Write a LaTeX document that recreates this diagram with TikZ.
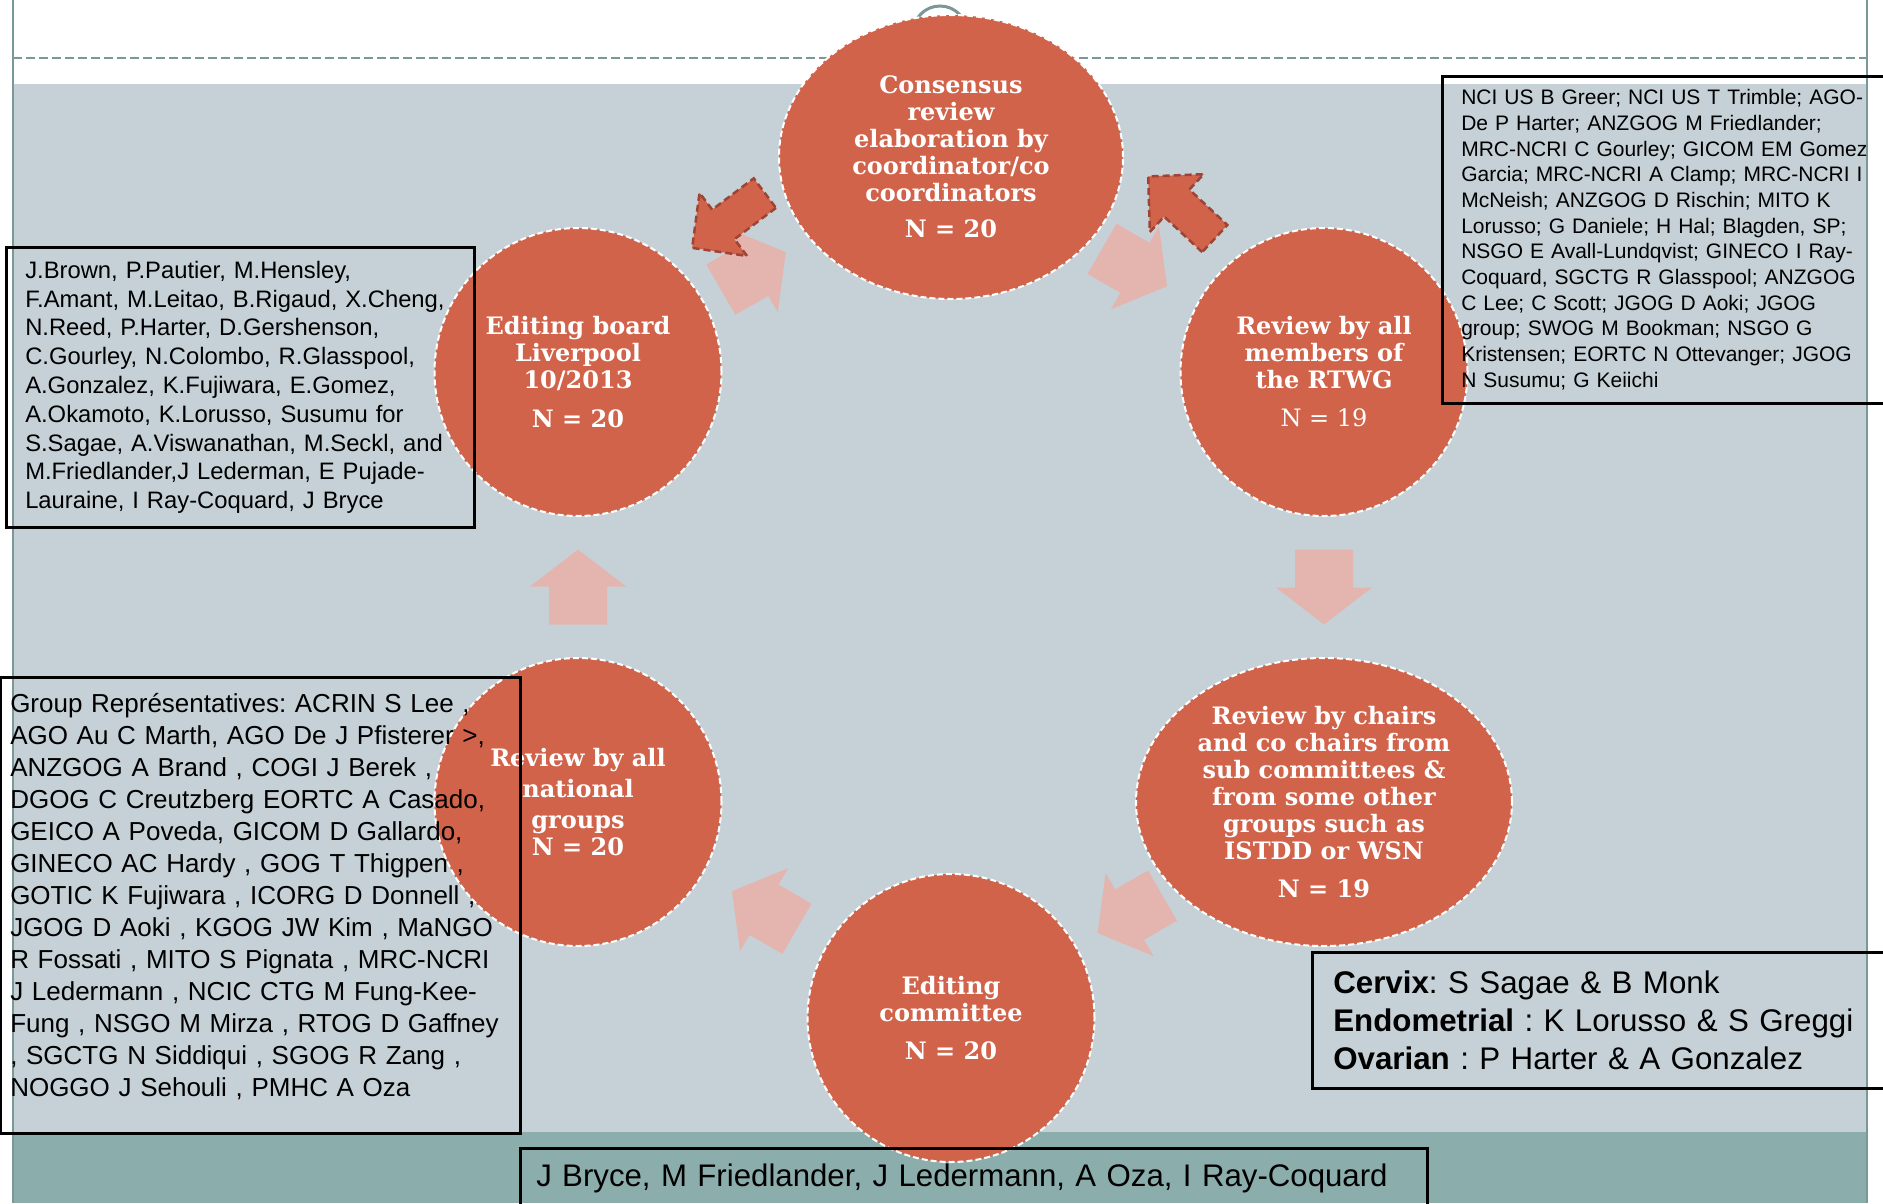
\documentclass[tikz,border=0pt]{standalone}
\usepackage{fontspec}
\setmainfont{Liberation Sans}
\newfontfamily\stagefont{DejaVu Serif}
\usetikzlibrary{shapes.geometric,calc,backgrounds}
\frenchspacing

\definecolor{stagefill}{RGB}{209,99,74}
\definecolor{stageedge}{RGB}{158,68,52}
\definecolor{arrowpink}{RGB}{228,181,174}
\definecolor{slidegray}{RGB}{197,209,215}
\definecolor{slideband}{RGB}{139,173,172}
\definecolor{slideline}{RGB}{122,152,152}

\newcommand{\pinkarrow}[2]{%
	\fill[arrowpink, shift={#1}, rotate=#2] (-37.5,-29) -- (0.5,-29) -- (0.5,-48) -- (37.5,0) -- (0.5,48) -- (0.5,29) -- (-37.5,29) -- cycle;}
\newcommand{\darkarrow}[2]{%
	\filldraw[darkblock, shift={#1}, rotate=#2] (-45.5,-18.5) -- (6.5,-18.5) -- (6.5,-39.5) -- (45.5,0) -- (6.5,39.5) -- (6.5,18.5) -- (-45.5,18.5) -- cycle;}

\begin{document}
\begin{tikzpicture}[x=1pt,y=-1pt,
	stage/.style={ellipse, fill=stagefill, draw=white, line width=2, dash pattern=on 6pt off 3pt, text=white, align=center, inner sep=0pt, font={\stagefont\bfseries\fontsize{24}{27}\selectfont}},
	namebox/.style={draw=black, line width=2.5, align=left, anchor=north west, inner ysep=0pt},
	darkblock/.style={fill=stagefill, draw=stageedge, line width=2.5, dash pattern=on 7pt off 4pt}]
	\useasboundingbox (0,0) rectangle (1883,1203);
	\begin{scope}[on background layer]
    \fill[white] (0,0) rectangle (1883,1203);
    \fill[slidegray] (13,84) rectangle (1867,1132);
    \fill[slideband] (13,1132) rectangle (1867,1203);
    \draw[slideline, line width=2] (13,0) -- (13,1203) (1867,0) -- (1867,1203);
    \draw[slideline, line width=2, dash pattern=on 9pt off 4pt] (13,58) -- (1867,58);
    \draw[slideline, line width=3] (940,33) circle (27);
	\end{scope}
    \node[stage, minimum width=344, minimum height=284] (consensus) at (951,157) {Consensus\\review\\elaboration by\\coordinator/co\\coordinators\\[9pt]N = 20};
    \node[stage, minimum width=287, minimum height=288] (board) at (578,372) {Editing board\\Liverpool\\10/2013\\[12pt]N = 20};
    \node[stage, minimum width=287, minimum height=288] (rtwg) at (1324,372) {Review by all\\members of\\the RTWG\\[11pt]{\mdseries N = 19}};
    \node[stage, minimum width=376, minimum height=288] (chairs) at (1324,802) {Review by chairs\\and co chairs from\\sub committees \&\\from some other\\groups such as\\ISTDD or WSN\\[11pt]N = 19};
    \node[stage, minimum width=287, minimum height=288] (committee) at (951,1018) {Editing\\committee\\[11pt]N = 20};
    \node[stage, minimum width=287, minimum height=288, font={\stagefont\bfseries\fontsize{24}{31}\selectfont}] (national) at (578,802) {Review by all\\national\\groups\\[-4pt]N = 20};
	\begin{scope}[on background layer]
    \pinkarrow{($(board)!0.47!(consensus)$)}{30}
    \pinkarrow{($(consensus)!0.5!(rtwg)+(-3,3)$)}{-30}
    \pinkarrow{($(rtwg)!0.5!(chairs)$)}{-90}
    \pinkarrow{($(chairs)!0.52!(committee)$)}{210}
    \pinkarrow{($(committee)!0.5!(national)$)}{150}
    \pinkarrow{($(national)!0.5!(board)$)}{90}
    \darkarrow{($(consensus)!0.5!(board)+(-36,-44)$)}{217}
    \darkarrow{($(consensus)!0.5!(rtwg)+(44,-57)$)}{137}
	\end{scope}
    \node[namebox, font=\fontsize{23.8}{28.8}\selectfont, text width=430, inner xsep=19, minimum height=280] (boardlist) at (5,246) {J.Brown, P.Pautier, M.Hensley,\\F.Amant, M.Leitao, B.Rigaud, X.Cheng,\\N.Reed, P.Harter, D.Gershenson,\\C.Gourley, N.Colombo, R.Glasspool,\\A.Gonzalez, K.Fujiwara, E.Gomez,\\A.Okamoto, K.Lorusso, Susumu for\\S.Sagae, A.Viswanathan, M.Seckl, and\\M.Friedlander,J Lederman, E Pujade-\\Lauraine, I Ray-Coquard, J Bryce};
    \node[namebox, font=\fontsize{21}{25.7}\selectfont, text width=440, inner xsep=19, minimum height=327] (rtwglist) at (1441,75) {NCI US B Greer; NCI US T Trimble; AGO-\\De P Harter; ANZGOG M Friedlander;\\MRC-NCRI C Gourley; GICOM EM Gomez\\Garcia; MRC-NCRI A Clamp; MRC-NCRI I\\McNeish; ANZGOG D Rischin; MITO K\\Lorusso; G Daniele; H Hal; Blagden, SP;\\NSGO E Avall-Lundqvist; GINECO I Ray-\\Coquard, SGCTG R Glasspool; ANZGOG\\C Lee; C Scott; JGOG D Aoki; JGOG\\group; SWOG M Bookman; NSGO G\\Kristensen; EORTC N Ottevanger; JGOG\\N Susumu; G Keiichi};
    \node[namebox, font=\fontsize{26}{32}\selectfont, text width=500, inner xsep=10, minimum height=456] (grouplist) at (-1,676) {Group Représentatives: ACRIN S Lee ,\\AGO Au C Marth, AGO De J Pfisterer >,\\ANZGOG A Brand , COGI J Berek ,\\DGOG C Creutzberg EORTC A Casado,\\GEICO A Poveda, GICOM D Gallardo,\\GINECO AC Hardy , GOG T Thigpen ,\\GOTIC K Fujiwara , ICORG D Donnell ,\\JGOG D Aoki , KGOG JW Kim , MaNGO\\R Fossati , MITO S Pignata , MRC-NCRI\\J Ledermann , NCIC CTG M Fung-Kee-\\Fung , NSGO M Mirza , RTOG D Gaffney\\, SGCTG N Siddiqui , SGOG R Zang ,\\NOGGO J Sehouli , PMHC A Oza\\[-12pt]\mbox{}};
    \node[namebox, font=\fontsize{31.3}{38.4}\selectfont, text width=560, inner xsep=21, minimum height=136] (chairlist) at (1311,951) {\textbf{Cervix}: S Sagae \& B Monk\\\textbf{Endometrial} : K Lorusso \& S Greggi\\\textbf{Ovarian} : P Harter \& A Gonzalez};
    \node[namebox, font=\fontsize{31.2}{38.4}\selectfont, text width=875, inner xsep=16, minimum height=60] (committeelist) at (519,1147) {J Bryce, M Friedlander, J Ledermann, A Oza, I Ray-Coquard};
\end{tikzpicture}
\end{document}
